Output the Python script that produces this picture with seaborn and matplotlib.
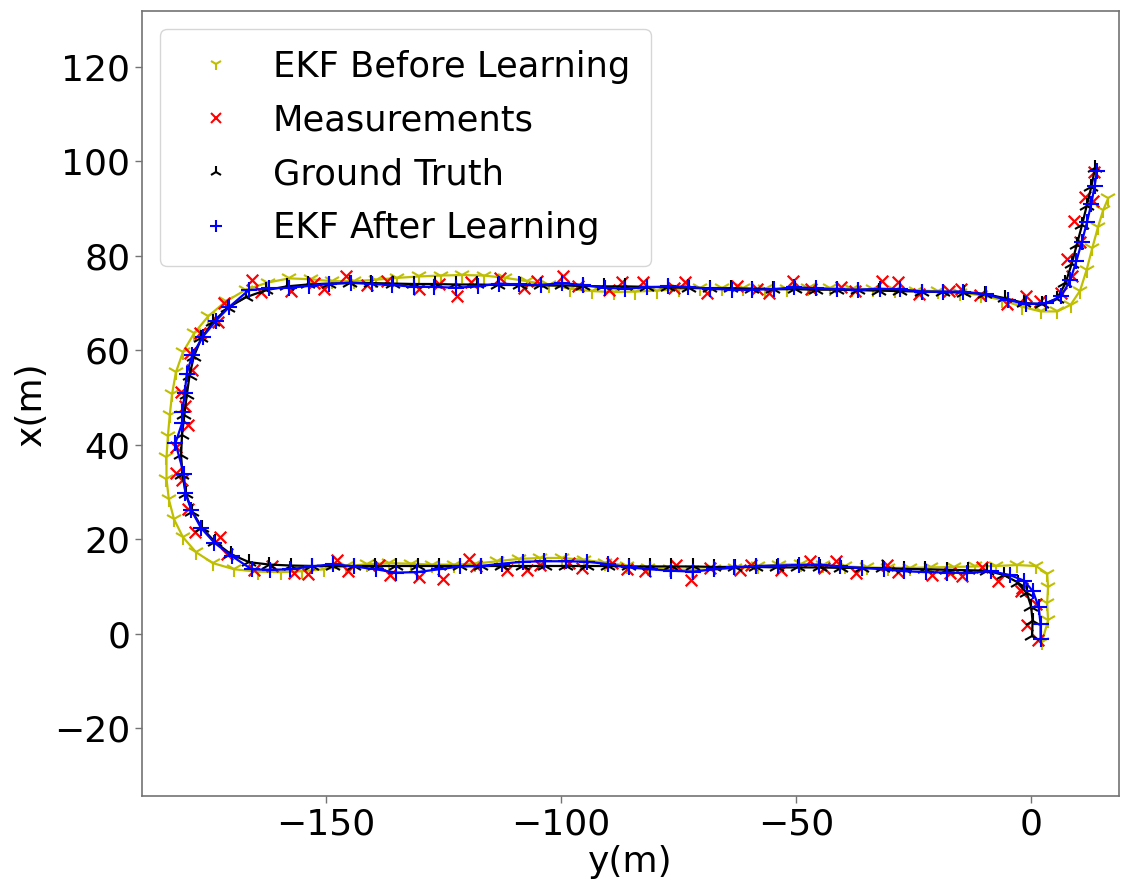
import matplotlib
matplotlib.use("Agg")
import matplotlib.pyplot as plt
from matplotlib.lines import Line2D
import seaborn as sns
import pandas as pd

# ---------------- data (y = horizontal, x = vertical) ----------------
gt_y = [0.2, 0.3, 0.0, -0.9, -2.8, -5.8, -9.4,
        -13.5, -18.0, -22.5, -27.0, -31.5, -36.0, -40.5, -45.0, -49.5, -54.0, -58.5, -63.0, -67.5, -72.0,
        -76.5, -81.0, -85.5, -90.0, -94.5, -99.0, -103.5, -108.0, -112.5, -117.0, -121.5, -126.0, -130.5,
        -135.0, -139.5, -144.0, -148.5, -153.0, -157.5, -162.0,
        -166.3, -170.2, -173.5, -176.3, -178.4, -179.8, -180.5, -180.8, -180.6, -180.1, -179.6, -179.0,
        -178.1, -176.5, -174.0, -170.8, -167.0, -162.8, -158.3,
        -153.8, -149.3, -144.8, -140.3, -135.8, -131.3, -126.8, -122.3, -117.8, -113.3, -108.8, -104.3,
        -99.8, -95.3, -90.8, -86.3, -81.8, -77.3, -72.8, -68.3, -63.8, -59.3, -54.8, -50.3, -45.8, -41.3,
        -36.8, -32.3, -27.8, -23.3, -18.8, -14.3, -9.8,
        -5.6, -1.6, 2.4, 5.5, 7.3, 8.6, 9.7, 10.8, 11.8, 12.8, 13.6]
gt_x = [-0.6, 2.6, 5.7, 8.5, 10.8, 12.4, 13.3,
        13.4, 13.5, 13.6, 13.7, 13.8, 13.9, 13.9, 14.0, 14.0, 14.0, 14.1, 14.1, 14.1, 14.2,
        14.2, 14.2, 14.2, 14.3, 14.3, 14.3, 14.3, 14.3, 14.3, 14.3, 14.3, 14.3, 14.3,
        14.3, 14.3, 14.3, 14.3, 14.3, 14.4, 14.6,
        15.1, 16.8, 19.3, 22.3, 25.8, 29.6, 33.6, 37.8, 42.0, 46.2, 50.4, 54.6,
        58.6, 62.5, 66.0, 69.0, 71.2, 72.7, 73.5,
        73.9, 74.1, 74.2, 74.2, 74.1, 74.0, 74.0, 73.9, 73.9, 73.8, 73.8, 73.7,
        73.7, 73.6, 73.5, 73.5, 73.4, 73.3, 73.2, 73.1, 73.1, 73.0, 72.9, 72.9, 72.8, 72.8,
        72.7, 72.6, 72.5, 72.4, 72.3, 72.2, 71.9,
        71.0, 70.0, 69.7, 70.9, 74.2, 78.2, 82.3, 86.4, 90.5, 94.6, 98.6]

meas_y = [1.4, -0.8, 1.0, -2.2, -1.9, -7.0, -10.5,
          -14.8, -17.2, -21.0, -28.3, -30.6, -37.2, -41.5, -44.1, -47.0, -53.2, -59.6, -62.0, -68.4, -72.3,
          -75.6, -82.1, -86.0, -89.2, -95.5, -98.3, -104.4, -107.2, -111.5, -118.1, -119.6, -125.0, -130.2,
          -136.4, -138.8, -145.2, -147.6, -153.9, -156.8, -161.5,
          -165.2, -171.0, -172.6, -177.8, -179.4, -180.6, -181.9, -179.4, -181.8, -180.0, -180.9, -178.5,
          -179.0, -176.8, -173.0, -171.6, -165.7, -163.8, -157.4,
          -152.6, -150.4, -145.7, -141.2, -136.9, -130.1, -126.0, -122.1, -119.1, -113.0, -107.9, -105.2,
          -99.6, -96.4, -89.8, -87.0, -82.5, -76.0, -73.6, -68.9, -62.5, -58.4, -55.7, -50.6, -46.8, -40.4,
          -37.5, -31.7, -28.3, -23.8, -17.5, -15.0, -10.9,
          -5.2, -1.0, 1.8, 6.4, 8.6, 7.6, 10.4, 9.2, 11.5, 13.2, 13.4]
meas_x = [-1.4, 1.8, 6.3, 8.9, 9.6, 11.2, 14.1,
          12.2, 12.8, 12.3, 13.1, 14.5, 12.9, 15.3, 13.9, 15.3, 13.4, 14.6, 13.5, 13.8, 11.3,
          14.6, 13.2, 13.7, 14.9, 13.9, 15.0, 14.6, 13.4, 13.4, 14.4, 15.8, 11.5, 11.9,
          12.3, 14.5, 13.2, 15.6, 12.6, 12.8, 14.2,
          13.4, 16.9, 20.4, 21.6, 26.4, 32.5, 34.0, 44.2, 39.4, 48.1, 51.2, 55.8,
          59.4, 63.7, 65.9, 69.9, 74.9, 72.4, 72.6,
          74.2, 72.9, 75.7, 73.8, 74.6, 72.9, 74.0, 71.5, 74.4, 75.3, 73.2, 74.6,
          75.7, 73.5, 72.8, 74.4, 74.4, 73.2, 74.5, 72.2, 73.5, 73.0, 72.1, 74.7, 73.0, 73.3,
          72.6, 74.7, 74.5, 71.8, 72.5, 72.9, 71.6,
          69.8, 71.4, 70.3, 72.2, 75.6, 79.4, 83.0, 87.4, 92.4, 91.6, 97.8]

after_y = [2.0, 2.0, 1.6, 0.4, -1.5, -4.6, -8.6,
           -13.6, -17.9, -22.4, -27.1, -31.4, -36.0, -40.6, -45.1, -49.4, -53.9, -58.6, -63.1, -67.4, -71.9,
           -76.6, -81.0, -85.5, -90.1, -94.4, -99.0, -103.6, -108.0, -112.5, -117.1, -121.4, -126.0, -130.6,
           -135.0, -139.4, -144.1, -148.5, -153.0, -157.6, -161.9,
           -165.8, -170.0, -173.7, -176.6, -178.6, -179.9, -180.2, -182.0, -180.6, -180.5, -180.0, -179.6,
           -178.4, -176.2, -173.4, -170.5, -166.4, -162.0, -157.8,
           -153.6, -149.4, -144.7, -140.2, -135.9, -131.2, -126.9, -122.4, -117.7, -113.2, -108.9, -104.3,
           -99.7, -95.4, -90.7, -86.4, -81.8, -77.2, -72.9, -68.3, -63.7, -59.4, -54.7, -50.4, -45.8, -41.2,
           -36.9, -32.2, -27.9, -23.3, -18.7, -14.4, -9.6,
           -5.0, -1.0, 3.2, 6.4, 8.3, 9.6, 10.8, 11.9, 12.8, 13.5, 14.0]
after_x = [-1.2, 2.0, 5.6, 8.9, 11.2, 12.4, 13.2,
           12.8, 12.9, 13.0, 13.2, 13.6, 13.9, 14.2, 14.6, 14.5, 14.4, 14.3, 14.0, 13.6, 13.1,
           13.3, 13.6, 14.0, 14.7, 15.2, 15.3, 15.3, 15.2, 14.8, 14.3, 14.2, 13.6, 13.0,
           12.9, 13.6, 14.2, 14.7, 14.2, 13.6, 13.5,
           13.6, 16.4, 19.2, 22.4, 26.1, 29.8, 33.8, 40.3, 44.5, 47.0, 51.0, 55.0,
           59.0, 62.8, 66.2, 69.2, 72.7, 73.1, 73.2,
           73.6, 74.0, 74.3, 74.0, 73.8, 73.4, 73.4, 73.2, 73.5, 74.1, 73.9, 73.8,
           74.2, 73.8, 73.2, 73.0, 73.3, 73.5, 73.4, 73.0, 72.8, 72.8, 72.9, 73.3, 73.1, 72.9,
           72.8, 73.0, 72.9, 72.4, 72.4, 72.4, 71.8,
           70.6, 69.8, 69.9, 71.4, 74.8, 78.8, 83.0, 87.2, 91.0, 94.8, 98.0]

before_y = [2.3, 3.6, 3.4, 3.6, 3.4, 1.0, -3.0,
            -7.5, -12.0, -16.5, -21.3, -25.8, -30.4, -35.0, -39.6, -44.3, -48.9, -53.6, -58.2, -62.9, -67.5,
            -72.2, -76.8, -81.4, -86.0, -90.6, -95.2, -99.8, -104.4, -109.0, -113.6, -118.2, -122.8, -127.4,
            -132.0, -136.6, -141.2, -145.8, -150.4, -155.0, -159.6,
            -164.5, -169.5, -174.0, -177.6, -180.4, -182.3, -183.4, -183.9, -183.9, -183.6, -183.2, -182.7,
            -181.9, -180.4, -178.0, -175.0, -171.3, -167.0, -162.4,
            -157.8, -153.2, -148.6, -144.0, -139.4, -134.8, -130.2, -125.6, -121.0, -116.4, -111.8, -107.2,
            -102.6, -98.0, -93.4, -88.8, -84.2, -79.6, -75.0, -70.4, -65.8, -61.2, -56.6, -52.0, -47.4, -42.8,
            -38.2, -33.6, -29.0, -24.4, -19.8, -15.2, -10.6,
            -6.2, -2.0, 2.0, 5.6, 8.4, 10.4, 11.8, 13.0, 14.2, 15.3, 16.4]
before_x = [-1.8, 2.8, 6.4, 9.8, 12.7, 14.3, 14.5,
            14.3, 14.2, 14.1, 14.0, 13.9, 13.9, 14.0, 14.2, 14.5, 14.7, 14.6, 14.2, 13.8, 13.6,
            13.5, 13.6, 13.9, 14.4, 15.0, 15.6, 16.0, 16.0, 15.8, 15.3, 14.8, 14.6, 14.6,
            14.8, 14.9, 14.7, 14.2, 13.6, 13.2, 13.0,
            13.1, 13.6, 14.9, 17.2, 20.4, 24.2, 28.4, 32.8, 37.3, 41.8, 46.3, 50.8,
            55.3, 59.6, 63.6, 67.2, 70.3, 72.8, 74.3,
            75.2, 75.0, 74.6, 74.6, 74.9, 75.3, 75.6, 75.8, 75.9, 75.8, 75.3, 74.6,
            73.8, 73.0, 72.5, 72.3, 72.4, 72.6, 72.9, 73.1, 73.2, 73.1, 73.0, 73.0, 73.1, 73.1,
            73.0, 72.9, 72.7, 72.6, 72.5, 72.2, 71.6,
            70.6, 69.2, 68.2, 68.2, 69.6, 72.6, 77.0, 81.6, 86.0, 89.6, 92.2]

labels = ["EKF Before Learning", "Measurements", "Ground Truth", "EKF After Learning"]
x_ticks = [-150, -100, -50, 0]
y_ticks = [-20, 0, 20, 40, 60, 80, 100, 120]

# ---------------- plot ----------------
sns.set_style("white")
plt.rcParams["font.family"] = ["DejaVu Sans"]
plt.rcParams["text.color"] = "black"
plt.rcParams["axes.labelcolor"] = "black"
plt.rcParams["xtick.color"] = "black"
plt.rcParams["ytick.color"] = "black"

fig = plt.figure(figsize=(11.22, 8.82), dpi=100)
ax = fig.add_axes([0.1266, 0.0975, 0.8708, 0.890])

YEL = (0.75, 0.75, 0.0)

df_b = pd.DataFrame({"y": before_y, "x": before_x})
df_m = pd.DataFrame({"y": meas_y, "x": meas_x})
df_g = pd.DataFrame({"y": gt_y, "x": gt_x})
df_a = pd.DataFrame({"y": after_y, "x": after_x})

sns.lineplot(data=df_b, x="y", y="x", sort=False, estimator=None, color=YEL,
             marker="1", markersize=12, markeredgewidth=1.5, markeredgecolor=YEL,
             linewidth=1.6, ax=ax, zorder=2)
sns.scatterplot(data=df_m, x="y", y="x", marker="x", color="red", s=70,
                linewidth=1.6, ax=ax, zorder=3)
sns.lineplot(data=df_g, x="y", y="x", sort=False, estimator=None, color="black",
             marker="2", markersize=12, markeredgewidth=1.5, markeredgecolor="black",
             linewidth=1.6, ax=ax, zorder=4)
sns.lineplot(data=df_a, x="y", y="x", sort=False, estimator=None, color="blue",
             marker="+", markersize=11, markeredgewidth=1.5, markeredgecolor="blue",
             linewidth=1.6, ax=ax, zorder=5)

ax.set_xlim(-189.1, 18.7)
ax.set_ylim(-34.4, 131.8)
ax.set_xticks(x_ticks)
ax.set_yticks(y_ticks)
ax.tick_params(axis="both", labelsize=26, bottom=True, left=True, length=5,
               width=1, color="0.45", labelcolor="black")
ax.set_xlabel("y(m)", fontsize=26, labelpad=2, color="black")
ax.set_ylabel("x(m)", fontsize=26, color="black")
for s in ax.spines.values():
    s.set_color("0.45")
    s.set_linewidth(1.2)

handles = [
    Line2D([], [], linestyle="none", marker="1", color=YEL, markersize=9, markeredgewidth=1.5),
    Line2D([], [], linestyle="none", marker="x", color="red", markersize=7, markeredgewidth=1.5),
    Line2D([], [], linestyle="none", marker="2", color="black", markersize=9, markeredgewidth=1.5),
    Line2D([], [], linestyle="none", marker="+", color="blue", markersize=8, markeredgewidth=1.5),
]
leg = ax.legend(handles, labels, loc="upper left", fontsize=25.4, labelspacing=0.56,
                borderpad=0.6, handletextpad=0.6, borderaxespad=0.5,
                frameon=True, fancybox=True, framealpha=0.8, edgecolor="0.8")
for t in leg.get_texts():
    t.set_color("black")

fig.savefig("out.png", dpi=100)
